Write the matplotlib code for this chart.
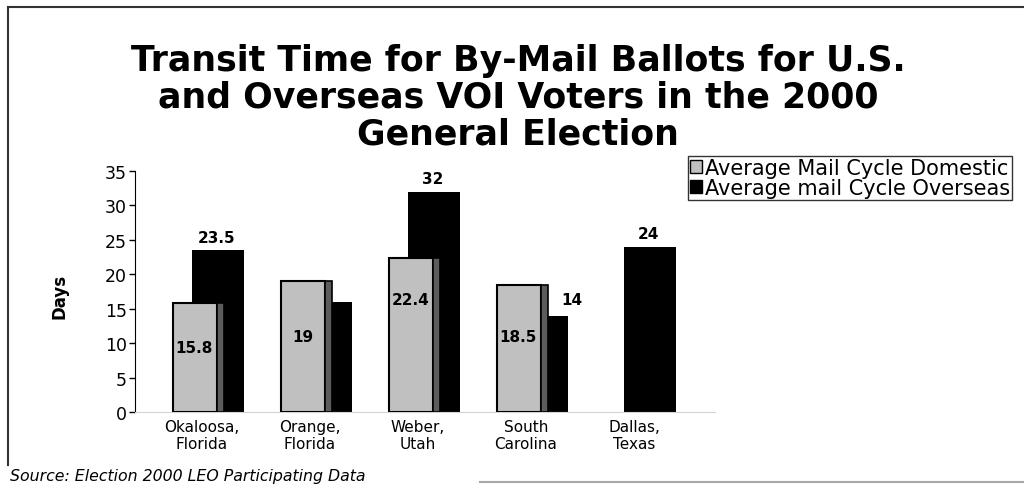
import numpy as np
import matplotlib
matplotlib.use("Agg")
import matplotlib.pyplot as plt
from matplotlib.patches import Patch
from matplotlib.lines import Line2D

plt.rcParams['font.family'] = ['DejaVu Sans']

# transit times in days, per county
counties = ["Okaloosa,\nFlorida", "Orange,\nFlorida", "Weber,\nUtah", "South\nCarolina", "Dallas,\nTexas"]
domestic = [15.8, 19, 22.4, 18.5, np.nan]
overseas = [23.5, 16, 32, 14, 24]
overseas_labelled = [True, False, True, True, True]
series_names = ["Average Mail Cycle Domestic", "Average mail Cycle Overseas"]

title = "Transit Time for By-Mail Ballots for U.S.\nand Overseas VOI Voters in the 2000\nGeneral Election"
source = "Source: Election 2000 LEO Participating Data"

gray = "#c0c0c0"
side = "#5c5c5c"

fig = plt.figure(figsize=(10.24, 4.85), dpi=100)
ax = fig.add_axes([135 / 1024, 1 - 413 / 485, 580 / 1024, 241 / 485])

x = np.arange(len(counties))

# overseas bars sit behind the domestic ones
ax.bar(x - 0.153, overseas, width=0.48, align='edge', color='black', zorder=2)
# domestic bars with a dark side strip for the 3D look
ax.bar(x - 0.329, domestic, width=0.408, align='edge', color=gray,
       edgecolor='black', linewidth=1.5, zorder=3)
ax.bar(x + 0.079, domestic, width=0.062, align='edge', color=side,
       edgecolor='black', linewidth=1.2, zorder=3)

# value labels
dom_label_y = [9.3, 11.0, 16.4, 10.9]
for i, v in enumerate(domestic):
    if np.isnan(v):
        continue
    ax.text(i - 0.13, dom_label_y[i], f"{v:g}", ha='center', va='center',
            fontsize=11, fontweight='bold', zorder=5)
for i, v in enumerate(overseas):
    if not overseas_labelled[i]:
        continue
    if v < domestic[i]:
        ax.text(i + 0.27, v + 1.2, f"{v:g}", ha='left', va='bottom',
                fontsize=11, fontweight='bold', zorder=5)
    else:
        ax.text(i + 0.075, v + 0.8, f"{v:g}", ha='center', va='bottom',
                fontsize=11, fontweight='bold', zorder=5)

ax.set_xlim(-0.68, 4.69)
ax.set_ylim(0, 35)
ax.set_yticks(np.arange(0, 36, 5))
ax.tick_params(axis='y', labelsize=12.5, length=4, width=1, direction='out', pad=2)
ax.set_xticks(x - 0.06)
ax.set_xticklabels(counties, fontsize=11, linespacing=1.15)
ax.tick_params(axis='x', length=0, pad=5)
for s in ['top', 'right']:
    ax.spines[s].set_visible(False)
ax.spines['bottom'].set_color('#d4d4d4')
ax.spines['left'].set_color('black')

fig.text(518 / 1024, 1 - 44 / 485, title, ha='center', va='top', fontsize=25,
         fontweight='bold', linespacing=1.1)
fig.text(60 / 1024, 1 - 296 / 485, "Days", rotation=90, ha='center', va='center',
         fontsize=12, fontweight='bold')
fig.text(10 / 1024, 1 - 484 / 485, source, ha='left', va='bottom', fontsize=11.3,
         style='italic')

handles = [Patch(facecolor=gray, edgecolor='black', linewidth=1),
           Patch(facecolor='black', edgecolor='black')]
leg = fig.legend(handles, series_names, loc='upper right',
                 bbox_to_anchor=(1012 / 1024, 1 - 157 / 485), fontsize=15,
                 frameon=True, fancybox=False, edgecolor='black',
                 handlelength=0.55, handleheight=0.55, handletextpad=0.15,
                 borderpad=0.1, labelspacing=0.0, borderaxespad=0)
leg.get_frame().set_linewidth(1)

# frame lines around the slide
fig.add_artist(Line2D([8 / 1024, 1], [1 - 8 / 485] * 2, color='#333333', lw=1.5))
fig.add_artist(Line2D([8 / 1024] * 2, [1 - 8 / 485, 1 - 466 / 485], color='#333333', lw=1.5))
fig.add_artist(Line2D([480 / 1024, 1], [1 - 483 / 485] * 2, color='#a8a8a8', lw=1.5))

fig.savefig("out.png", dpi=100)
